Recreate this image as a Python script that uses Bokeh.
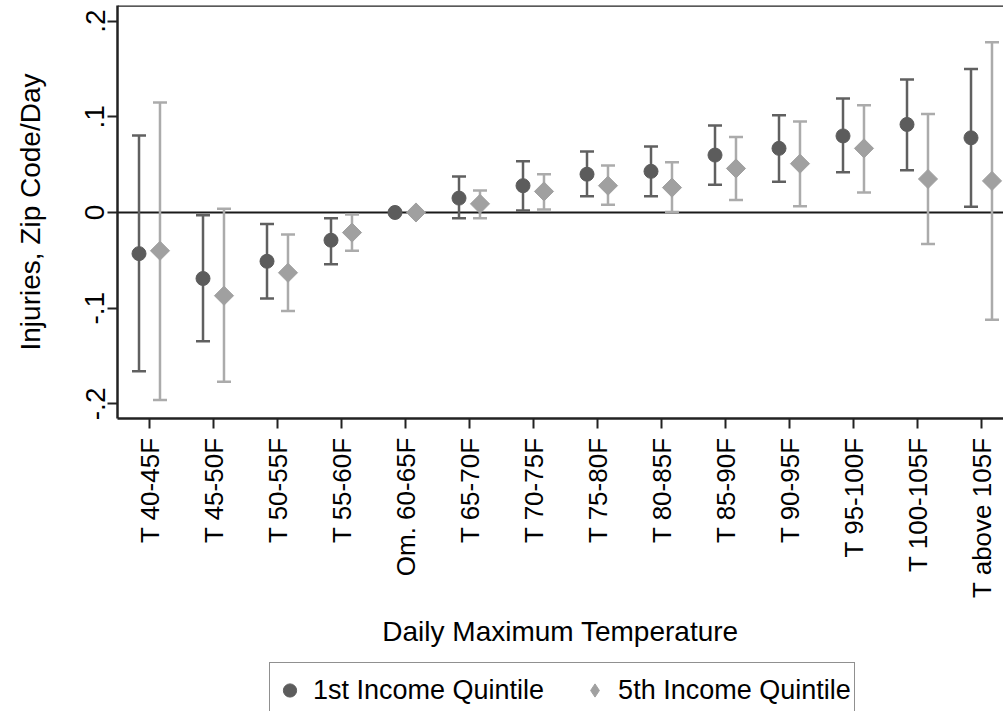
import math
from bokeh.plotting import figure
from bokeh.layouts import column
from bokeh.models import (ColumnDataSource, Range1d, FixedTicker, Whisker, TeeHead,
                          Span, Legend, LegendItem, CustomJSTickFormatter)
from bokeh.transform import dodge
from bokeh.embed import file_html
from bokeh.resources import INLINE

categories = ["T 40-45F", "T 45-50F", "T 50-55F", "T 55-60F", "Om. 60-65F",
              "T 65-70F", "T 70-75F", "T 75-80F", "T 80-85F", "T 85-90F",
              "T 90-95F", "T 95-100F", "T 100-105F", "T above 105F"]

q1_est = [-0.043, -0.069, -0.051, -0.029, 0.0, 0.015, 0.028, 0.040, 0.043, 0.060,
          0.067, 0.080, 0.092, 0.078]
q1_lo = [-0.166, -0.1345, -0.090, -0.054, None, -0.006, 0.002, 0.017, 0.017, 0.029,
         0.032, 0.042, 0.044, 0.006]
q1_hi = [0.0805, -0.003, -0.012, -0.006, None, 0.0376, 0.0536, 0.0637, 0.069, 0.091,
         0.1017, 0.119, 0.139, 0.150]

q5_est = [-0.040, -0.087, -0.063, -0.021, 0.0, 0.009, 0.022, 0.028, 0.026, 0.046,
          0.051, 0.067, 0.035, 0.033]
q5_lo = [-0.196, -0.177, -0.103, -0.040, None, -0.006, 0.003, 0.008, 0.0005, 0.013,
         0.0066, 0.021, -0.033, -0.112]
q5_hi = [0.115, 0.004, -0.023, -0.002, None, 0.023, 0.040, 0.049, 0.0526, 0.079,
         0.095, 0.112, 0.103, 0.178]

y_ticks = [-0.2, -0.1, 0.0, 0.1, 0.2]
series_labels = ["1st Income Quintile", "5th Income Quintile"]

FONT = "Liberation Sans"
DARK = "#5c5c5c"
DARK_BAR = "#606060"
LIGHT = "#a0a0a0"
LIGHT_BAR = "#ababab"
OFF = 0.164

xs = list(range(1, len(categories) + 1))
src = ColumnDataSource(dict(x=xs, q1=q1_est, q5=q5_est))
keep = [i for i in range(len(categories)) if q1_lo[i] is not None]
wsrc = ColumnDataSource(dict(
    x=[xs[i] for i in keep],
    q1_lo=[q1_lo[i] for i in keep], q1_hi=[q1_hi[i] for i in keep],
    q5_lo=[q5_lo[i] for i in keep], q5_hi=[q5_hi[i] for i in keep],
))

Y_END = 0.2163
H1 = 656
p = figure(width=1003, height=H1, output_backend="svg", toolbar_location=None,
           x_range=Range1d(0.5, 0.5 + 886 / 64.0), y_range=Range1d(-0.2153, Y_END),
           min_border_left=117, min_border_right=0, min_border_top=5,
           min_border_bottom=H1 - 418)
p.outline_line_color = None
p.xgrid.visible = False
p.ygrid.visible = False
p.background_fill_color = "white"
p.border_fill_color = "white"

# zero line and top border
p.add_layout(Span(location=0, dimension="width", line_color="#1a1a1a", line_width=2,
                  level="underlay"))
p.add_layout(Span(location=Y_END, dimension="width", line_color="#222222", line_width=2.5))

for base_off, lo, hi, col in [(-OFF, "q1_lo", "q1_hi", DARK_BAR), (OFF, "q5_lo", "q5_hi", LIGHT_BAR)]:
    w = Whisker(source=wsrc, base=dodge("x", base_off), lower=lo, upper=hi,
                dimension="height", line_color=col, line_width=2.5,
                upper_head=TeeHead(size=14, line_color=col, line_width=2.5),
                lower_head=TeeHead(size=14, line_color=col, line_width=2.5))
    p.add_layout(w)

p.scatter(x=dodge("x", -OFF), y="q1", source=src, marker="circle", size=14,
          fill_color=DARK, line_color=DARK)
p.scatter(x=dodge("x", OFF), y="q5", source=src, marker="square", size=13.5,
          angle=math.pi / 4, fill_color=LIGHT, line_color=LIGHT)

# axes
xa = p.xaxis[0]
xa.ticker = FixedTicker(ticks=xs)
xa.major_label_overrides = {x: c for x, c in zip(xs, categories)}
xa.major_label_orientation = math.pi / 2
xa.major_label_text_font = FONT
xa.major_label_text_font_size = "26px"
xa.major_label_text_color = "black"
xa.major_label_standoff = 9
xa.major_tick_out = 10
xa.major_tick_in = 0
xa.minor_tick_out = 0
xa.minor_tick_in = 0
xa.axis_line_width = 2.5
xa.axis_line_color = "#222222"
xa.major_tick_line_width = 2
xa.major_tick_line_color = "#222222"
xa.axis_label = "Daily Maximum Temperature"
xa.axis_label_text_font = FONT
xa.axis_label_text_font_size = "28px"
xa.axis_label_text_font_style = "normal"
xa.axis_label_text_color = "black"
xa.axis_label_standoff = 15

ya = p.yaxis[0]
ya.ticker = FixedTicker(ticks=y_ticks)
ya.formatter = CustomJSTickFormatter(
    code="if (Math.abs(tick) < 1e-9) { return '0'; } return tick.toFixed(1).replace('0.', '.');")
ya.major_label_orientation = "parallel"
ya.major_label_text_font = FONT
ya.major_label_text_font_size = "28px"
ya.major_label_text_color = "black"
ya.major_label_standoff = 3
ya.major_tick_out = 10
ya.major_tick_in = 0
ya.minor_tick_out = 0
ya.minor_tick_in = 0
ya.axis_line_width = 2.5
ya.axis_line_color = "#222222"
ya.major_tick_line_width = 2
ya.major_tick_line_color = "#222222"
ya.axis_label = "Injuries, Zip Code/Day"
ya.axis_label_text_font = FONT
ya.axis_label_text_font_size = "28px"
ya.axis_label_text_font_style = "normal"
ya.axis_label_text_color = "black"
ya.axis_label_standoff = 37

# legend strip below the chart (legend proxies use the same data, kept out of view)
H2 = 711 - H1
p2 = figure(width=1003, height=H2, output_backend="svg", toolbar_location=None,
            x_range=Range1d(0, 1003), y_range=Range1d(1, 2),
            x_axis_location=None, y_axis_location=None, min_border=0)
p2.outline_line_color = None
p2.xgrid.visible = False
p2.ygrid.visible = False
p2.background_fill_color = "white"
p2.border_fill_color = "white"
l1 = p2.scatter(x="x", y="q1", source=src, marker="circle",
                fill_color=DARK, line_color=DARK)
l2 = p2.scatter(x="x", y="q5", source=src, marker="diamond",
                fill_color=LIGHT, line_color=LIGHT)

legend = Legend(items=[LegendItem(label=series_labels[0], renderers=[l1]),
                       LegendItem(label=series_labels[1], renderers=[l2])],
                orientation="horizontal", location=(152, -7),
                label_text_font=FONT, label_text_font_size="27px",
                label_text_color="black",
                glyph_width=33, glyph_height=48, padding=3, spacing=34,
                label_standoff=7, border_line_color="#222222", border_line_width=1.5,
                background_fill_color="white", background_fill_alpha=1.0, margin=0)
p2.add_layout(legend, "center")

layout = column(p, p2, spacing=0)
open("out.html", "w").write(file_html(layout, INLINE))
